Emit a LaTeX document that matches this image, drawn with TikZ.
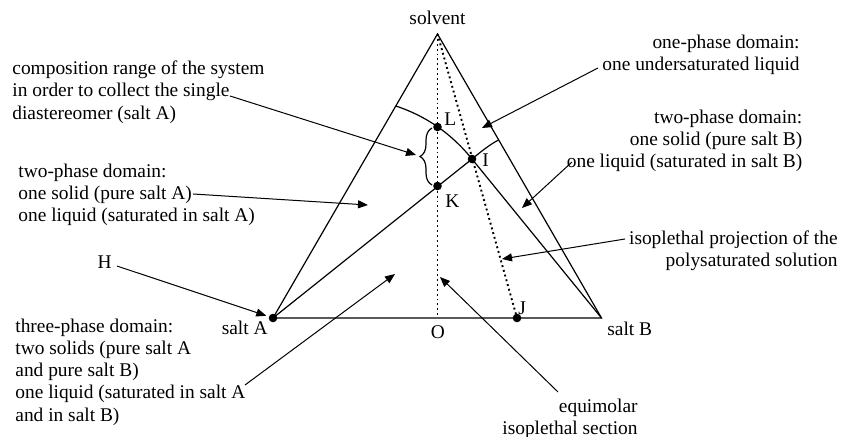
\documentclass[tikz,border=0pt]{standalone}
\usepackage{fontspec}
\setmainfont{Liberation Serif}
\usepackage{tikz}
\usetikzlibrary{
  arrows.meta,
  calc,
  decorations.pathreplacing
}
\definecolor{inkcolor}{RGB}{0, 0, 0}
\tikzset{
labeltext/.style={
  font=\fontsize{9.7}{11.1}\selectfont,
  text=inkcolor,
  inner sep=0pt
},
leftblock/.style={
  labeltext,
  align=left,
  anchor=north west
},
rightblock/.style={
  labeltext,
  align=right,
  anchor=north east
},
edge/.style={
  draw=inkcolor,
  line width=0.6pt
},
isopleth/.style={
  draw=inkcolor,
  line width=0.95pt,
  dash pattern=on 0.95pt off 1.5pt
},
pointer/.style={
  -{Triangle[length=5pt,width=4pt]},
  draw=inkcolor,
  line width=0.5pt
},
phasept/.style={
  circle,
  fill=inkcolor,
  inner sep=0pt,
  minimum size=4.3pt
}
}

\begin{document}
\begin{tikzpicture}[x=0.5pt,y=-0.5pt]
        \useasboundingbox (0,0) rectangle (843,437);
        % corners and points of the diagram
        \coordinate (solvent) at (437.5,34);
        \node[phasept] (saltA) at (273,318) {};
        \coordinate (saltB) at (601.5,318);
        \coordinate (O) at (437.5,318);
        \node[phasept] (J) at (517,318) {};
        \node[phasept] (I) at (472,159) {};
        \node[phasept] (L) at (437.5,127) {};
        \node[phasept] (K) at (437.5,186) {};
        \coordinate (P1) at ($(solvent)!0.2535!(saltA)$);
        \coordinate (P2) at ($(solvent)!0.373!(saltB)$);
        % triangle, solubility curves, isopleths
        \draw[edge] (solvent) -- (saltA.center) -- (saltB) -- cycle;
        \draw[edge] (P1) .. controls (426,116) and (451.5,133.6) .. (I.center) -- (saltB);
        \draw[edge] (saltA.center) -- (I.center) .. controls (483,150) and (490,144.5) .. (P2);
        \draw[isopleth] (solvent) -- (O);
        \draw[isopleth] (solvent) -- (J.center);
        \draw[edge, decorate, decoration={brace, amplitude=6pt}] (432,185) -- (432,128);
        % labels at the points
        \node[labeltext, anchor=base] (solventlbl) at (437.5,25) {solvent};
        \node[labeltext, anchor=base east] (saltAlbl) at (268,335) {salt A};
        \node[labeltext, anchor=base west] (saltBlbl) at (607,336) {salt B};
        \node[labeltext, anchor=base] (Olbl) at (438,338.3) {O};
        \node[labeltext, anchor=base west] (Jlbl) at (518,315) {J};
        \node[labeltext, anchor=base west] (Llbl) at (444,126) {L};
        \node[labeltext, anchor=base west] (Ilbl) at (482,166.7) {I};
        \node[labeltext, anchor=base west] (Klbl) at (445,208) {K};
        % texts round the diagram
        \node[leftblock] (range) at (12,60.7) {composition range of the system\\in order to collect the single\\diastereomer (salt A)};
        \node[leftblock] (twoA) at (18,163.4) {two-phase domain:\\one solid (pure salt A)\\one liquid (saturated in salt A)};
        \node[rightblock] (oneph) at (800,34.7) {one-phase domain:\\one undersaturated liquid};
        \node[rightblock] (twoB) at (802.7,109.4) {two-phase domain:\\one solid (pure salt B)\\one liquid (saturated in salt B)};
        \node[rightblock] (proj) at (838,230) {isoplethal projection of the\\polysaturated solution};
        \node[labeltext, anchor=base, inner sep=2.5pt] (H) at (104.7,268.3) {H};
        \node[leftblock] (three) at (15,318.4) {three-phase domain:\\two solids (pure salt A\\and pure salt B)\\one liquid (saturated in salt A\\and in salt B)};
        \node[rightblock] (equi) at (638,398.4) {equimolar\\isoplethal section};
        % pointers
        \coordinate (rangeend) at (230,96);
        \coordinate (bracetip) at (416,155);
        \coordinate (twoAend) at (193,194);
        \coordinate (twoAspot) at (368,205);
        \coordinate (onephend) at (598,68);
        \coordinate (onephspot) at (482,128);
        \coordinate (twoBend) at (572,162);
        \coordinate (twoBspot) at (522,208);
        \coordinate (projend) at (625,239);
        \coordinate (projspot) at (502,259);
        \coordinate (threeend) at (245,385);
        \coordinate (threespot) at (395,274);
        \coordinate (equiend) at (558,392);
        \coordinate (equispot) at (440,277);
        \draw[pointer] (rangeend) -- (bracetip);
        \draw[pointer] (twoAend) -- (twoAspot);
        \draw[pointer] (onephend) -- (onephspot);
        \draw[pointer] (twoBend) -- (twoBspot);
        \draw[pointer] (projend) -- (projspot);
        \draw[pointer, shorten >=1.2pt] (H) -- (saltA);
        \draw[pointer] (threeend) -- (threespot);
        \draw[pointer] (equiend) -- (equispot);
      \end{tikzpicture}
\end{document}
